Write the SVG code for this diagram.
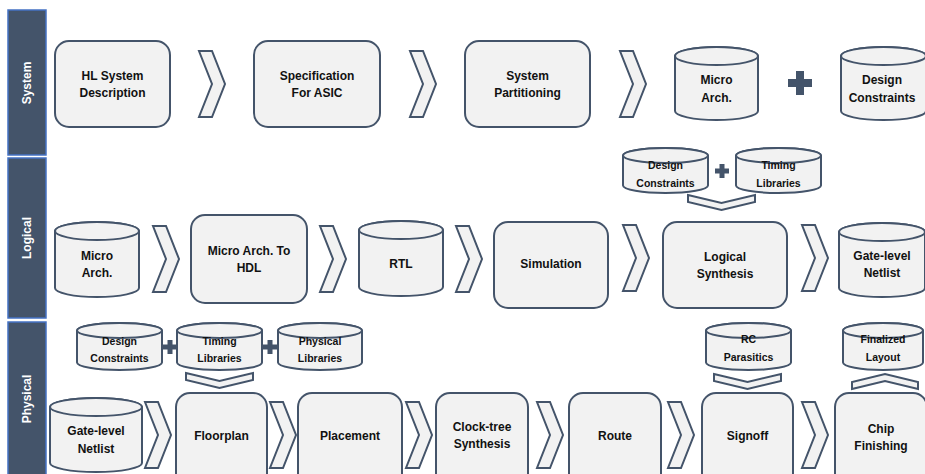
<svg xmlns="http://www.w3.org/2000/svg" width="925" height="474" viewBox="0 0 925 474">
  <style>
    .bar { fill: #44546A; stroke: #4472C4; stroke-width: 1.5; }
    .bar-label { fill: #FFFFFF; font-family: "Liberation Sans", Arial, sans-serif; font-weight: bold; font-size: 12px; text-anchor: middle; }
    .box { fill: #F2F2F2; stroke: #44546A; stroke-width: 2; }
    .chev { fill: #F2F2F2; stroke: #44546A; stroke-width: 2; stroke-linejoin: miter; }
    .plus { fill: #44546A; }
    .t { fill: #111111; font-family: "Liberation Sans", Arial, sans-serif; font-weight: bold; font-size: 12px; text-anchor: middle; }
    .ts { fill: #111111; font-family: "Liberation Sans", Arial, sans-serif; font-weight: bold; font-size: 10.5px; text-anchor: middle; }
  </style>
  <defs>
    <!-- step arrow pointing right -->
    <path id="chevR" d="M0,0 H13 L26,33 L13,66 H0 L13,33 Z"/>
    <!-- merge arrow pointing down -->
    <path id="chevD" d="M0,0 L33.5,8 L67,0 V7 L33.5,15 L0,7 Z"/>
    <!-- merge arrow pointing up -->
    <path id="chevU" d="M0,15 L33,7 L66,15 V8 L33,0 L0,8 Z"/>
    <!-- plus signs -->
    <path id="plusL" d="M-4,-12 H4 V-4 H12 V4 H4 V12 H-4 V4 H-12 V-4 H-4 Z"/>
    <path id="plusS" d="M-2.5,-7 H2.5 V-2.5 H7 V2.5 H2.5 V7 H-2.5 V2.5 H-7 V-2.5 H-2.5 Z"/>
  </defs>

  <!-- stage bars -->
  <g id="stage-system">
    <rect class="bar" x="8" y="10" width="38" height="145"/>
    <text class="bar-label" transform="translate(31,83) rotate(-90)">System</text>
  </g>
  <g id="stage-logical">
    <rect class="bar" x="8" y="158" width="38" height="160"/>
    <text class="bar-label" transform="translate(31,238) rotate(-90)">Logical</text>
  </g>
  <g id="stage-physical">
    <rect class="bar" x="8" y="322" width="38" height="156"/>
    <text class="bar-label" transform="translate(31,399) rotate(-90)">Physical</text>
  </g>

  <!-- connectors -->
  <g id="connectors">
    <use href="#chevR" class="chev" x="199" y="51"/>
    <use href="#chevR" class="chev" x="410" y="51"/>
    <use href="#chevR" class="chev" x="620" y="51"/>
    <use href="#plusL" class="plus" x="800" y="83"/>

    <use href="#chevR" class="chev" x="153" y="226"/>
    <use href="#chevR" class="chev" x="320" y="226"/>
    <use href="#chevR" class="chev" x="456" y="226"/>
    <use href="#chevR" class="chev" x="623" y="225"/>
    <use href="#chevR" class="chev" x="802" y="225"/>
    <use href="#plusS" class="plus" x="722" y="171"/>
    <use href="#chevD" class="chev" x="688" y="195"/>

    <use href="#chevR" class="chev" x="145" y="402"/>
    <use href="#chevR" class="chev" x="270" y="402"/>
    <use href="#chevR" class="chev" x="406" y="402"/>
    <use href="#chevR" class="chev" x="537" y="402"/>
    <use href="#chevR" class="chev" x="668" y="402"/>
    <use href="#chevR" class="chev" x="802" y="402"/>
    <use href="#plusS" class="plus" x="170" y="347"/>
    <use href="#plusS" class="plus" x="270" y="347"/>
    <use href="#chevD" class="chev" x="186" y="373"/>
    <use href="#chevD" class="chev" x="714" y="374"/>
    <use href="#chevU" class="chev" x="852" y="374"/>
  </g>

  <!-- system level -->
  <g id="hl-system-description">
    <rect class="box" x="55" y="41" width="115" height="86" rx="14"/>
    <text class="t" x="112.5" y="80">HL System</text>
    <text class="t" x="112.5" y="97">Description</text>
  </g>
  <g id="specification-for-asic">
    <rect class="box" x="254" y="41" width="126" height="86" rx="14"/>
    <text class="t" x="317" y="80">Specification</text>
    <text class="t" x="317" y="97">For ASIC</text>
  </g>
  <g id="system-partitioning">
    <rect class="box" x="465" y="41" width="125" height="86" rx="14"/>
    <text class="t" x="527.5" y="80">System</text>
    <text class="t" x="527.5" y="97">Partitioning</text>
  </g>
  <g id="micro-arch-sys">
    <path class="box" d="M675,56 A41.5,9 0 0 1 758,56 V111 A41.5,9 0 0 1 675,111 Z"/>
    <ellipse class="box" cx="716.5" cy="56" rx="41.5" ry="9"/>
    <text class="t" x="716.5" y="84">Micro</text>
    <text class="t" x="716.5" y="102">Arch.</text>
  </g>
  <g id="design-constraints-sys">
    <path class="box" d="M841,56 A42.5,9 0 0 1 926,56 V111 A42.5,9 0 0 1 841,111 Z"/>
    <ellipse class="box" cx="883.5" cy="56" rx="42.5" ry="9"/>
    <text class="t" x="882" y="84">Design</text>
    <text class="t" x="882" y="102">Constraints</text>
  </g>

  <!-- logical level -->
  <g id="micro-arch-log">
    <path class="box" d="M55,231 A42,9 0 0 1 139,231 V288 A42,9 0 0 1 55,288 Z"/>
    <ellipse class="box" cx="97" cy="231" rx="42" ry="9"/>
    <text class="t" x="97" y="260">Micro</text>
    <text class="t" x="97" y="277">Arch.</text>
  </g>
  <g id="micro-arch-to-hdl">
    <rect class="box" x="191" y="215" width="116" height="88" rx="14"/>
    <text class="t" x="249" y="255">Micro Arch. To</text>
    <text class="t" x="249" y="272">HDL</text>
  </g>
  <g id="rtl">
    <path class="box" d="M359,230 A42,9 0 0 1 443,230 V287 A42,9 0 0 1 359,287 Z"/>
    <ellipse class="box" cx="401" cy="230" rx="42" ry="9"/>
    <text class="t" x="401" y="268">RTL</text>
  </g>
  <g id="simulation">
    <rect class="box" x="494" y="222" width="114" height="86" rx="14"/>
    <text class="t" x="551" y="268">Simulation</text>
  </g>
  <g id="design-constraints-log">
    <path class="box" d="M623,155.5 A42.5,7.5 0 0 1 708,155.5 V185.5 A42.5,7.5 0 0 1 623,185.5 Z"/>
    <ellipse class="box" cx="665.5" cy="155.5" rx="42.5" ry="7.5"/>
    <text class="ts" x="665.5" y="169">Design</text>
    <text class="ts" x="665.5" y="187">Constraints</text>
  </g>
  <g id="timing-libraries-log">
    <path class="box" d="M736,155.5 A42.5,7.5 0 0 1 821,155.5 V185.5 A42.5,7.5 0 0 1 736,185.5 Z"/>
    <ellipse class="box" cx="778.5" cy="155.5" rx="42.5" ry="7.5"/>
    <text class="ts" x="778.5" y="169">Timing</text>
    <text class="ts" x="778.5" y="187">Libraries</text>
  </g>
  <g id="logical-synthesis">
    <rect class="box" x="663" y="222" width="124" height="86" rx="14"/>
    <text class="t" x="725" y="261">Logical</text>
    <text class="t" x="725" y="278">Synthesis</text>
  </g>
  <g id="gate-level-netlist-log">
    <path class="box" d="M839,232 A43,9 0 0 1 925,232 V288 A43,9 0 0 1 839,288 Z"/>
    <ellipse class="box" cx="882" cy="232" rx="43" ry="9"/>
    <text class="t" x="882" y="260">Gate-level</text>
    <text class="t" x="882" y="277">Netlist</text>
  </g>

  <!-- physical level -->
  <g id="design-constraints-phy">
    <path class="box" d="M77,330.5 A42.5,7.5 0 0 1 162,330.5 V362.5 A42.5,7.5 0 0 1 77,362.5 Z"/>
    <ellipse class="box" cx="119.5" cy="330.5" rx="42.5" ry="7.5"/>
    <text class="ts" x="119.5" y="345">Design</text>
    <text class="ts" x="119.5" y="362">Constraints</text>
  </g>
  <g id="timing-libraries-phy">
    <path class="box" d="M177,330.5 A42.5,7.5 0 0 1 262,330.5 V362.5 A42.5,7.5 0 0 1 177,362.5 Z"/>
    <ellipse class="box" cx="219.5" cy="330.5" rx="42.5" ry="7.5"/>
    <text class="ts" x="219.5" y="345">Timing</text>
    <text class="ts" x="219.5" y="362">Libraries</text>
  </g>
  <g id="physical-libraries">
    <path class="box" d="M278,330.5 A42,7.5 0 0 1 362,330.5 V362.5 A42,7.5 0 0 1 278,362.5 Z"/>
    <ellipse class="box" cx="320" cy="330.5" rx="42" ry="7.5"/>
    <text class="ts" x="320" y="345">Physical</text>
    <text class="ts" x="320" y="362">Libraries</text>
  </g>
  <g id="gate-level-netlist-phy">
    <path class="box" d="M50,407 A46,9 0 0 1 142,407 V463 A46,9 0 0 1 50,463 Z"/>
    <ellipse class="box" cx="96" cy="407" rx="46" ry="9"/>
    <text class="t" x="96" y="435">Gate-level</text>
    <text class="t" x="96" y="453">Netlist</text>
  </g>
  <g id="floorplan">
    <rect class="box" x="176" y="393" width="91" height="100" rx="14"/>
    <text class="t" x="221.5" y="440">Floorplan</text>
  </g>
  <g id="placement">
    <rect class="box" x="298" y="393" width="104" height="100" rx="14"/>
    <text class="t" x="350" y="440">Placement</text>
  </g>
  <g id="clock-tree-synthesis">
    <rect class="box" x="436" y="393" width="92" height="100" rx="14"/>
    <text class="t" x="482" y="431">Clock-tree</text>
    <text class="t" x="482" y="448">Synthesis</text>
  </g>
  <g id="route">
    <rect class="box" x="569" y="393" width="92" height="100" rx="14"/>
    <text class="t" x="615" y="440">Route</text>
  </g>
  <g id="rc-parasitics">
    <path class="box" d="M706,330.5 A42.5,7.5 0 0 1 791,330.5 V362.5 A42.5,7.5 0 0 1 706,362.5 Z"/>
    <ellipse class="box" cx="748.5" cy="330.5" rx="42.5" ry="7.5"/>
    <text class="ts" x="748.5" y="343">RC</text>
    <text class="ts" x="748.5" y="361">Parasitics</text>
  </g>
  <g id="signoff">
    <rect class="box" x="702" y="393" width="91" height="100" rx="14"/>
    <text class="t" x="747.5" y="440">Signoff</text>
  </g>
  <g id="finalized-layout">
    <path class="box" d="M843,330.5 A40,7.5 0 0 1 923,330.5 V362.5 A40,7.5 0 0 1 843,362.5 Z"/>
    <ellipse class="box" cx="883" cy="330.5" rx="40" ry="7.5"/>
    <text class="ts" x="883" y="343">Finalized</text>
    <text class="ts" x="883" y="361">Layout</text>
  </g>
  <g id="chip-finishing">
    <rect class="box" x="835" y="393" width="92" height="100" rx="14"/>
    <text class="t" x="881" y="433">Chip</text>
    <text class="t" x="881" y="450">Finishing</text>
  </g>
</svg>
